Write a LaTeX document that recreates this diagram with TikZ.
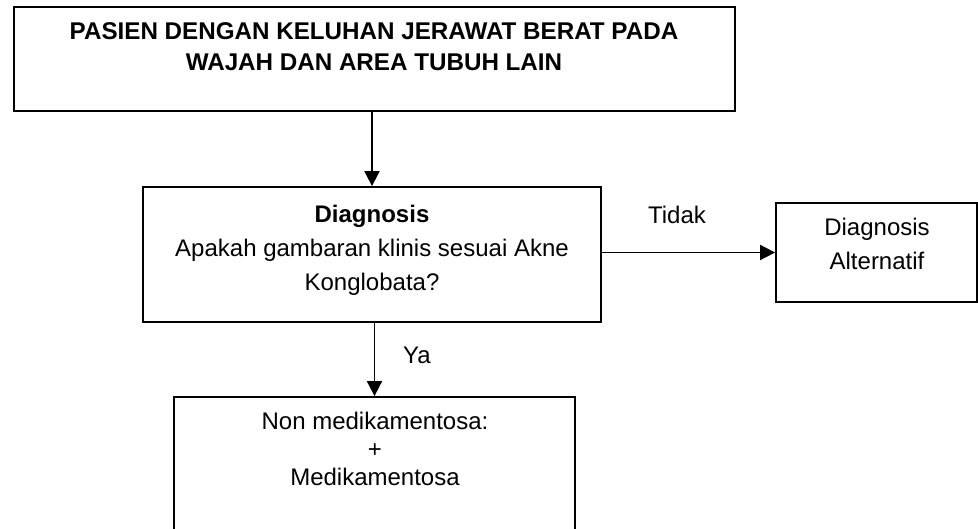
\documentclass[tikz,border=0pt]{standalone}
\usepackage{fontspec}
\setmainfont{Liberation Sans}
\usetikzlibrary{arrows.meta}
\begin{document}
\begin{tikzpicture}[x=1pt,y=-1pt,
  box/.style n args={2}{draw, line width=1.8pt, minimum width=#1, minimum height=#2, inner sep=0pt},
  txt/.style={align=center, inner sep=0pt, font=\fontsize{24}{34}\selectfont},
  titletxt/.style={align=center, inner sep=0pt, font=\bfseries\fontsize{24.2}{31}\selectfont},
  arrow/.style={line width=1.8pt, -{Triangle[width=15pt,length=15pt]}}]
\useasboundingbox (0,0) rectangle (978,529);
\clip (0,0) rectangle (978,529);

% boxes
\node[box={721pt}{104pt}] (start) at (374.5,59) {};
\node[box={458pt}{135pt}] (diag) at (372,254.5) {};
\node[box={201pt}{99pt}] (alt) at (876.5,252.5) {};
\node[box={401pt}{170pt}] (treat) at (374.5,482) {};

% box texts
\node[titletxt] (starttext) at (374,47) {PASIEN DENGAN KELUHAN JERAWAT BERAT PADA\\WAJAH DAN AREA TUBUH LAIN};
\node[txt] (diagtext) at (372,250) {\textbf{Diagnosis}\\Apakah gambaran klinis sesuai Akne\\Konglobata?};
\node[txt] (alttext) at (877,244) {Diagnosis\\Alternatif};
\node[txt, font=\fontsize{24}{28}\selectfont] (treattext) at (375,449) {Non medikamentosa:\\+\\Medikamentosa};

% connectors
\draw[arrow] (start.south -| diag) -- (diag.north);
\draw[arrow] (diag.south -| treat.north) -- (treat.north);
\draw[arrow] (diag.east |- alt) -- (alt.west);

% branch labels
\node[txt] (no) at (677,215) {Tidak};
\node[txt] (yes) at (417,355) {Ya};
\end{tikzpicture}
\end{document}
